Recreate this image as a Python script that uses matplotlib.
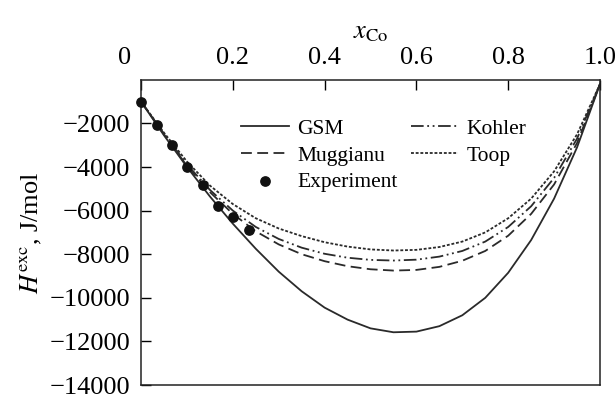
import numpy as np
import matplotlib
matplotlib.use("Agg")
import matplotlib.pyplot as plt
from matplotlib.transforms import ScaledTranslation

plt.rcParams['font.family'] = ['Liberation Serif', 'DejaVu Serif']
plt.rcParams['mathtext.fontset'] = 'stix'

# composition grid (x_Co)
x = [0.0, 0.05, 0.1, 0.15, 0.2, 0.25, 0.3, 0.35, 0.4, 0.45, 0.5,
     0.55, 0.6, 0.65, 0.7, 0.75, 0.8, 0.85, 0.9, 0.95, 1.0]

gsm = [-1000, -2550, -4000, -5350, -6600, -7750, -8800, -9700, -10450, -11000, -11400,
       -11580, -11550, -11300, -10800, -10000, -8850, -7350, -5450, -3100, -200]
muggianu = [-1000, -2500, -3950, -5150, -6150, -6950, -7550, -8000, -8320, -8550, -8690,
            -8750, -8720, -8580, -8300, -7850, -7150, -6150, -4800, -2900, -200]
kohler = [-1000, -2480, -3880, -5050, -6000, -6750, -7300, -7700, -7980, -8160, -8260,
          -8290, -8250, -8110, -7850, -7420, -6750, -5800, -4500, -2700, -200]
toop = [-1000, -2430, -3750, -4850, -5700, -6350, -6820, -7170, -7450, -7650, -7780,
        -7830, -7800, -7670, -7420, -7000, -6350, -5450, -4200, -2500, -200]

x_exp = [0.0, 0.035, 0.067, 0.10, 0.135, 0.167, 0.20, 0.235]
h_exp = [-1000, -2080, -2970, -3980, -4830, -5770, -6270, -6900]

xticks = [0, 0.2, 0.4, 0.6, 0.8, 1.0]
xtick_labels = ['0', '0.2', '0.4', '0.6', '0.8', '1.0']
yticks = [-14000, -12000, -10000, -8000, -6000, -4000, -2000]

fig = plt.figure(figsize=(6.16, 3.99), dpi=100)
ax = fig.add_axes([0.229, 0.035, 0.745, 0.765])

col = '#2a2a2a'

ax.plot(x, gsm, color=col, lw=1.3, label='GSM')
ax.plot(x, muggianu, color=col, lw=1.3, dashes=(6, 3), label='Muggianu')
ax.scatter(x_exp, h_exp, s=45, color='#111111', zorder=5, clip_on=False, label='Experiment')
ax.plot(x, kohler, color=col, lw=1.3, dashes=(7, 2, 1, 2, 1, 2), label='Kohler')
ax.plot(x, toop, color=col, lw=1.3, dashes=(1.6, 1.0), label='Toop')

ax.set_xlim(0, 1.0)
ax.set_ylim(-14000, 0)
ax.xaxis.tick_top()
ax.xaxis.set_label_position('top')
ax.set_xticks(xticks)
ax.set_xticklabels(xtick_labels)
ax.set_yticks(yticks)
ax.tick_params(axis='both', direction='in', length=7, width=1, labelsize=19, pad=8)
ax.tick_params(axis='x', top=True, bottom=False)
ax.set_xlabel(r'$x_{\mathrm{Co}}$', fontsize=19, labelpad=6)
ax.set_ylabel(r'$H^{\mathrm{exc}}$, J/mol', fontsize=19, labelpad=4)
for s in ax.spines.values():
    s.set_linewidth(1.1)
    s.set_color('#222222')

# the "0" label sits a bit left of the corner in the original
t0 = ax.xaxis.get_major_ticks()[0]
t0.label2.set_transform(t0.label2.get_transform() + ScaledTranslation(-0.17, 0, fig.dpi_scale_trans))

ax.legend(ncol=2, loc='upper left', bbox_to_anchor=(0.2, 0.9), frameon=False,
          fontsize=15.5, handlelength=2.2, handletextpad=0.4, columnspacing=0.6,
          labelspacing=0.3, borderaxespad=0)

fig.savefig('out.png', dpi=100)
